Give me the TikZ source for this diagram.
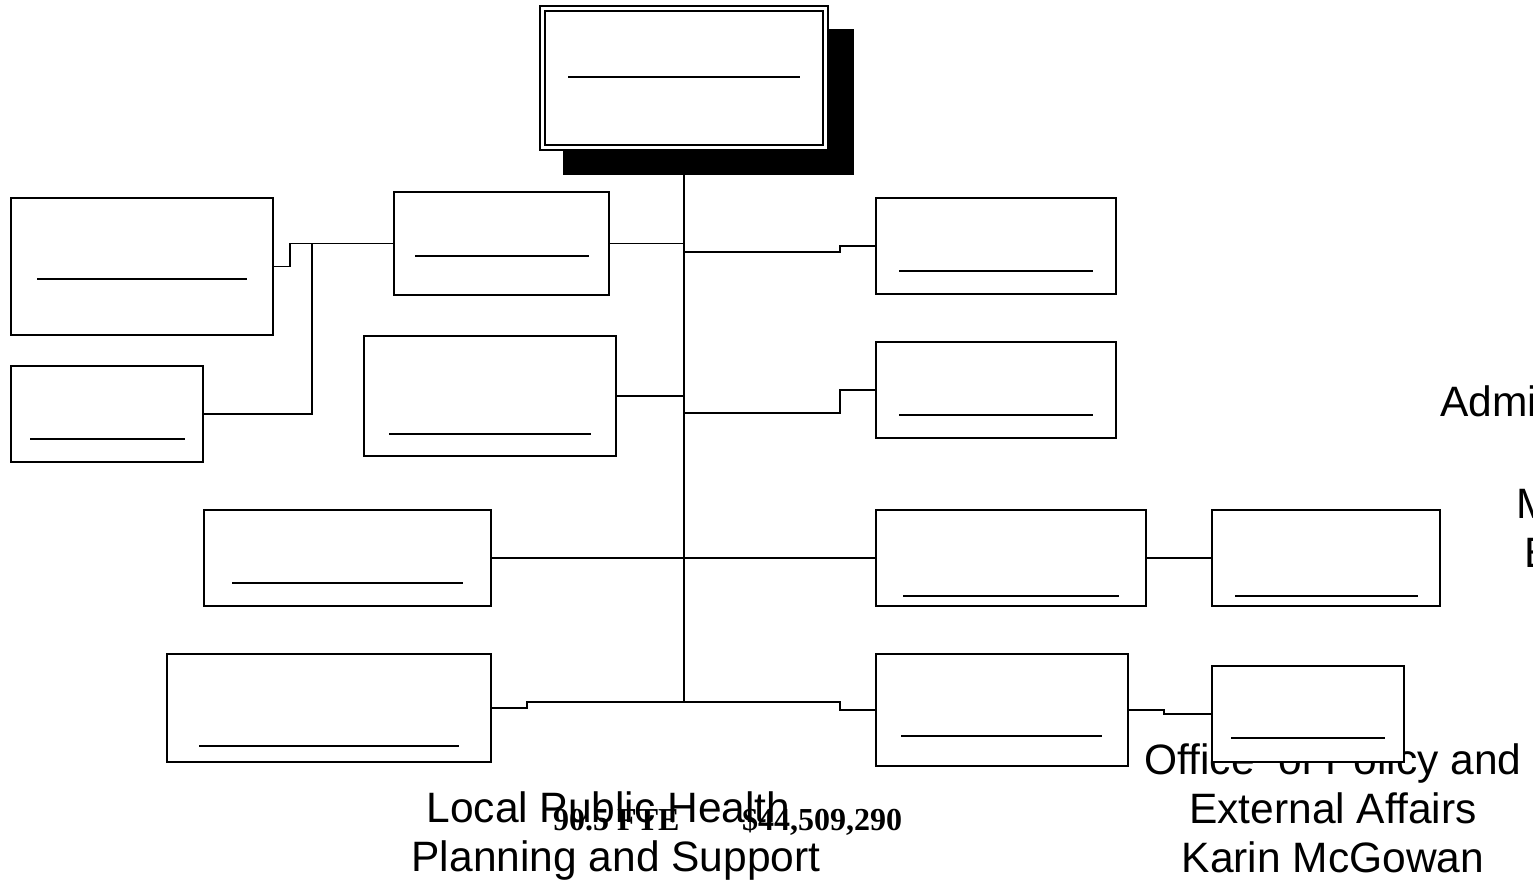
\documentclass[tikz,border=0pt]{standalone}
\usepackage{fontspec}
\setmainfont{Liberation Sans}
\newfontfamily\figfont{Liberation Serif}
\begin{document}
\begin{tikzpicture}[x=1pt,y=-1pt,
  orgbox/.style={draw, fill=white, line width=1.7pt, rectangle, inner sep=0pt, outer sep=0pt},
  conn/.style={line width=1.7pt},
  uline/.style={line width=2pt},
  lbl/.style={font=\fontsize{42.5}{49}\selectfont, inner sep=0pt, anchor=base},
  lblw/.style={font=\fontsize{42.5}{49}\selectfont, inner sep=0pt, anchor=base west},
  figs/.style={font=\figfont\bfseries\fontsize{32}{36}\selectfont, inner sep=0pt, anchor=base west}]
\useasboundingbox (0,0) rectangle (1533,882);

% unit captions
\node[lbl] (opea1) at (1333,774) {Office~ of Policy and};
\node[lbl] (opea2) at (1333,823) {External Affairs};
\node[lbl] (opea3) at (1333,872) {Karin McGowan};
\node[lbl] (lph1) at (608.5,822) {Local Public Health};
\node[lbl] (lph2) at (616,871) {Planning and Support};
\node[lblw] (adm) at (1440,416) {Admi};
\node[lblw] (mtx) at (1516,518) {M};
\node[lblw] (etx) at (1524,567) {E};

% director box with shadow
\node[draw, fill=black, minimum width=290pt, minimum height=145pt, inner sep=0pt, outer sep=0pt] (shadow) at (708,101.5) {};
\node[draw, fill=white, line width=1.7pt, double, double distance=3.2pt,
      minimum width=283pt, minimum height=139pt, inner sep=0pt, outer sep=0pt] (top) at (684,78) {};

% unit boxes
\node[orgbox, minimum width=262pt, minimum height=137pt] (L1) at (142,266.5) {};
\node[orgbox, minimum width=192pt, minimum height=96pt]  (L2) at (107,414) {};
\node[orgbox, minimum width=215pt, minimum height=103pt] (C1) at (501.5,243.5) {};
\node[orgbox, minimum width=252pt, minimum height=120pt] (C2) at (490,396) {};
\node[orgbox, minimum width=287pt, minimum height=96pt]  (L3) at (347.5,558) {};
\node[orgbox, minimum width=324pt, minimum height=108pt] (L4) at (329,708) {};
\node[orgbox, minimum width=240pt, minimum height=96pt]  (R1) at (996,246) {};
\node[orgbox, minimum width=240pt, minimum height=96pt]  (R2) at (996,390) {};
\node[orgbox, minimum width=270pt, minimum height=96pt]  (R3) at (1011,558) {};
\node[orgbox, minimum width=228pt, minimum height=96pt]  (R4) at (1326,558) {};
\node[orgbox, minimum width=252pt, minimum height=112pt] (R5) at (1002,710) {};
\node[orgbox, minimum width=192pt, minimum height=96pt]  (R6) at (1308,714) {};

% name lines inside the boxes
\draw[uline] (568,77) -- (800,77);
\draw[uline] (37,279) -- (247,279);
\draw[uline] (30,439) -- (185,439);
\draw[uline] (415,256) -- (589,256);
\draw[uline] (389,434) -- (591,434);
\draw[uline] (232,583) -- (463,583);
\draw[uline] (199,746) -- (459,746);
\draw[uline] (899,271) -- (1093,271);
\draw[uline] (899,415) -- (1093,415);
\draw[uline] (903,596) -- (1119,596);
\draw[uline] (1235,596) -- (1418,596);
\draw[uline] (901,736) -- (1102,736);
\draw[uline] (1231,738) -- (1385,738);

% reporting lines
\coordinate (tbot) at (684,702);
\coordinate (lj) at (312,243.5);
\draw[conn] (top.center |- shadow.south) -- (tbot);
\draw[conn] (C1.east) -- (C1.east -| tbot);
\draw[conn] (C2.east) -- (C2.east -| tbot);
\draw[conn] (R1.west) -- ++(-36,0) -- ++(0,6) -- (tbot |- 0,252);
\draw[conn] (R2.west) -- ++(-36,0) -- ++(0,23) -- (tbot |- 0,413);
\draw[conn] (L3.east) -- (R3.west);
\draw[conn] (R3.east) -- (R4.west);
\draw[conn] (L4.east) -- ++(36,0) -- ++(0,-6) -- (tbot);
\draw[conn] (tbot) -- ++(156,0) -- ++(0,8) -- (R5.west);
\draw[conn] (R5.east) -- ++(36,0) -- ++(0,4) -- (R6.west);
\draw[conn] (C1.west) -- ++(-104,0) |- (L1.east);
\draw[conn] (L2.east) -| (lj);

% staffing and budget figures
\node[figs] (fte) at (553,830) {90.5 FTE};
\node[figs] (bud) at (742,830) {\$44,509,290};
\end{tikzpicture}
\end{document}
